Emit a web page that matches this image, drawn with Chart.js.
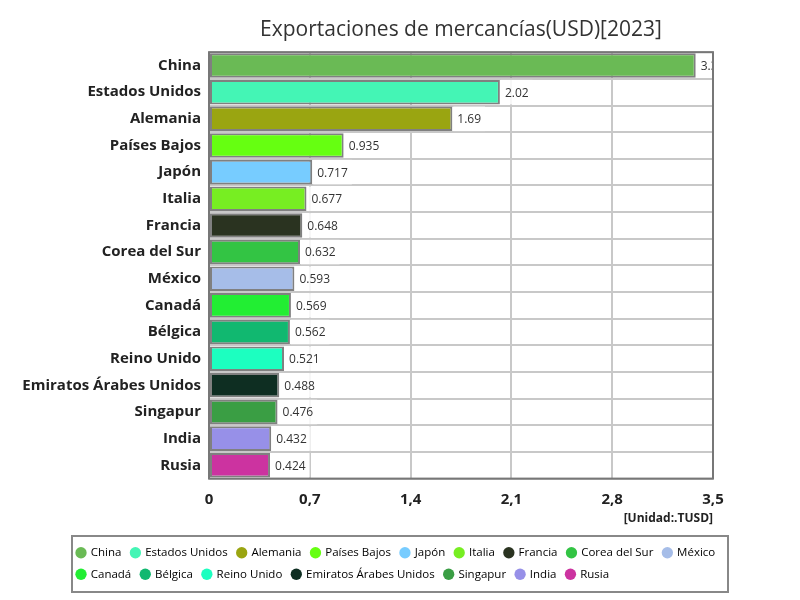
<!DOCTYPE html>
<html>
<head>
<meta charset="utf-8">
<script src="https://cdn.jsdelivr.net/npm/chart.js@4/dist/chart.umd.min.js"></script>
<style>
  html, body { margin: 0; padding: 0; background: #fff; }
  #wrap { width: 800px; height: 600px; }
</style>
</head>
<body>
<div id="wrap"><canvas id="exportChart"></canvas></div>
<script>
const countries = ['China', 'Estados Unidos', 'Alemania', 'Países Bajos', 'Japón', 'Italia', 'Francia',
    'Corea del Sur', 'México', 'Canadá', 'Bélgica', 'Reino Unido', 'Emiratos Árabes Unidos',
    'Singapur', 'India', 'Rusia'];
const exports2023 = [3.38, 2.02, 1.69, 0.935, 0.717, 0.677, 0.648, 0.632, 0.593, 0.569, 0.562,
    0.521, 0.488, 0.476, 0.432, 0.424];
const barColors = ['#6aba55', '#44f5b5', '#9aa511', '#66ff11', '#77ccff', '#77ee22', '#2a3320',
    '#33c444', '#a6bde8', '#22ee33', '#11b870', '#1cffc0', '#0e2e22', '#3a9e44', '#9790e8', '#cc33a0'];
const xTicks = [0, 0.7, 1.4, 2.1, 2.8, 3.5];

const FONT = "'Open Sans', 'Noto Sans', sans-serif";

// value labels with a white box, clipped to the plot area
const valueLabels = {
    id: 'valueLabels',
    afterDatasetsDraw(chart) {
        const ctx = chart.ctx;
        const area = chart.chartArea;
        const meta = chart.getDatasetMeta(0);
        ctx.save();
        ctx.beginPath();
        ctx.rect(area.left, area.top, area.right - area.left, area.bottom - area.top);
        ctx.clip();
        ctx.font = '12px ' + FONT;
        ctx.textBaseline = 'middle';
        meta.data.forEach((bar, i) => {
            const text = String(exports2023[i]);
            const w = ctx.measureText(text).width + 8;
            const h = bar.height;
            ctx.fillStyle = 'rgba(255,255,255,0.85)';
            ctx.fillRect(bar.x + 1, bar.y - h / 2, w, h);
            ctx.fillStyle = '#333';
            ctx.fillText(text, bar.x + 5, bar.y + 1);
        });
        ctx.restore();
    }
};

// legend box sits wider than the plot, under the whole figure
const legendBox = {
    id: 'legendBox',
    afterLayout(chart) {
        chart.legend.left = 67;
        chart.legend.right = 745;
    },
    afterDraw(chart) {
        const ctx = chart.ctx;
        const a = chart.chartArea;
        const lg = chart.legend;
        ctx.save();
        ctx.strokeStyle = '#777';
        ctx.lineWidth = 2;
        ctx.strokeRect(a.left, a.top, a.right - a.left, a.bottom - a.top);
        ctx.strokeStyle = '#888';
        ctx.strokeRect(72, lg.top - 1, 656, 56);
        ctx.restore();
    }
};

const ctx = document.getElementById('exportChart').getContext('2d');
new Chart(ctx, {
    type: 'bar',
    data: {
        labels: countries,
        datasets: [{
            label: 'Exportaciones',
            data: exports2023,
            backgroundColor: barColors,
            borderColor: '#808080',
            borderWidth: 2,
            borderSkipped: false,
            barPercentage: 0.92,
            categoryPercentage: 1
        }]
    },
    options: {
        indexAxis: 'y',
        responsive: true,
        maintainAspectRatio: false,
        animation: false,
        layout: {
            padding: { left: 20, right: 87, top: 6, bottom: 10 }
        },
        scales: {
            x: {
                min: 0,
                max: 3.5,
                afterBuildTicks: scale => {
                    scale.ticks = xTicks.map(v => ({ value: v }));
                },
                ticks: {
                    color: '#222',
                    font: { family: FONT, size: 15, weight: 'bold' },
                    padding: 12,
                    callback: v => String(v).replace('.', ',')
                },
                grid: { color: '#c8c8c8', lineWidth: 2, drawTicks: false },
                border: { display: false },
                title: {
                    display: true,
                    text: '[Unidad:.TUSD]',
                    align: 'end',
                    color: '#222',
                    font: { family: FONT, size: 12, weight: 'bold' },
                    padding: { top: -9, bottom: 11 }
                }
            },
            y: {
                afterFit: scale => { scale.width = 189; },
                ticks: {
                    color: '#222',
                    font: { family: FONT, size: 15, weight: 'bold' },
                    padding: 8
                },
                grid: { color: '#c8c8c8', lineWidth: 2, drawTicks: false, offset: true },
                border: { display: false }
            }
        },
        plugins: {
            title: {
                display: true,
                fullSize: false,
                text: 'Exportaciones de mercancías(USD)[2023]',
                color: '#333',
                font: { family: FONT, size: 21, weight: 'normal' },
                padding: { top: 11, bottom: 10 }
            },
            legend: {
                display: true,
                position: 'bottom',
                align: 'start',
                labels: {
                    color: '#444',
                    font: { family: FONT, size: 11.5 },
                    usePointStyle: true,
                    pointStyle: 'circle',
                    boxWidth: 8,
                    boxHeight: 8,
                    padding: 10,
                    generateLabels: () => countries.map((c, i) => ({
                        text: c,
                        fillStyle: barColors[i],
                        strokeStyle: barColors[i],
                        lineWidth: 0,
                        pointStyle: 'circle',
                        hidden: false,
                        index: i
                    }))
                },
                onClick: () => {}
            },
            tooltip: { enabled: false }
        }
    },
    plugins: [valueLabels, legendBox]
});
</script>
</body>
</html>
